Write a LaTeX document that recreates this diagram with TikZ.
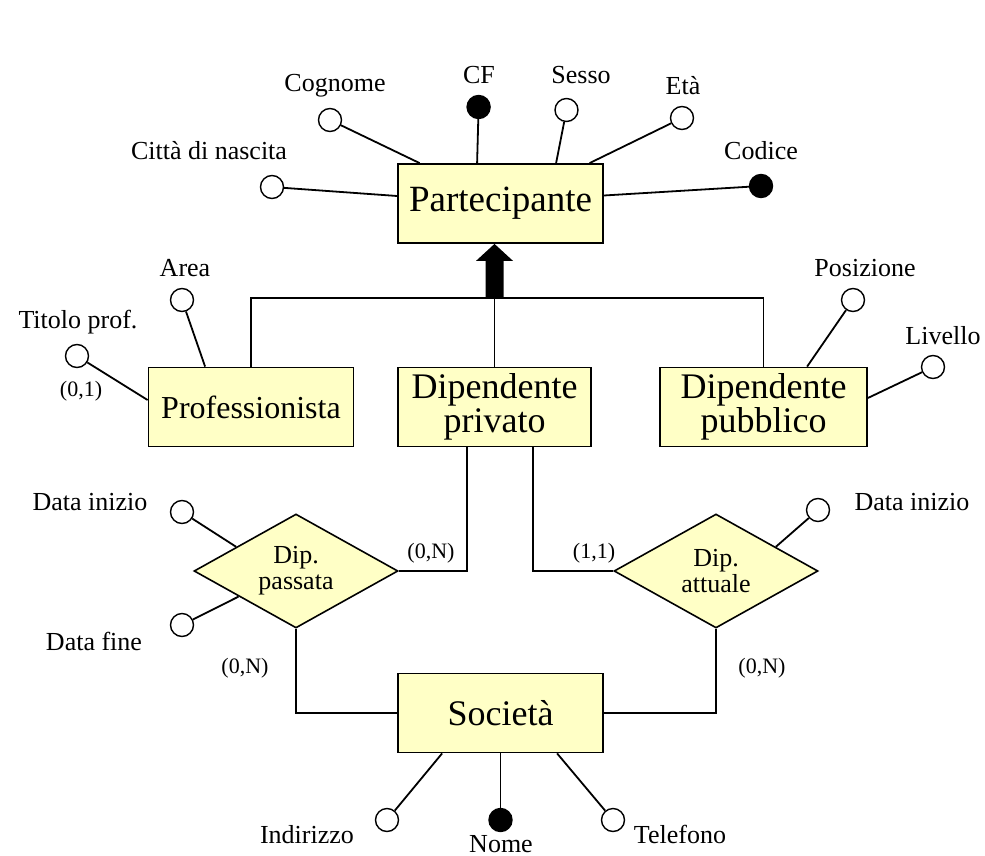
\documentclass[tikz,border=0pt]{standalone}
\usepackage{fontspec}
\setmainfont{Liberation Serif}
\usetikzlibrary{shapes.geometric,calc}
\definecolor{entfill}{HTML}{FFFFC6}

\begin{document}
\begin{tikzpicture}[x=1pt,y=-1pt,
  conn/.style={line width=1.8pt},
  entity/.style={draw, line width=1.8pt, fill=entfill, inner sep=0pt,
    align=center, minimum height=79pt, font=\fontsize{36}{34}\selectfont},
  relation/.style={diamond, draw, line width=1.6pt, fill=entfill, inner sep=0pt,
    minimum width=204pt, minimum height=114pt, aspect=1.79, align=center,
    font=\fontsize{26}{26}\selectfont},
  attr/.style={circle, draw, line width=1.4pt, fill=white, minimum size=23pt, inner sep=0pt},
  keyattr/.style={attr, fill=black},
  lbl/.style={font=\fontsize{26}{28}\selectfont, inner sep=0pt, anchor=base},
  card/.style={font=\fontsize{22}{24}\selectfont, inner sep=0pt, anchor=base}
]
\useasboundingbox (0,0) rectangle (985,856);

% entities
\node[entity, minimum width=205pt, font=\fontsize{37}{34}\selectfont] (part) at (500.5,203.5) {Partecipante};
\node[entity, minimum width=205pt, font=\fontsize{32}{34}\selectfont] (prof) at (251,407) {Professionista};
\node[entity, minimum width=193pt] (dpriv) at (494.5,407) {Dipendente\\privato};
\node[entity, minimum width=207pt] (dpub) at (763.5,407) {Dipendente\\pubblico};
\node[entity, minimum width=205pt] (soc) at (500.5,713) {Società};

% relationships
\node[relation] (dpass) at (296,571) {Dip.\\passata};
\node[relation] (datt) at (716,571) {Dip.\\attuale};

% generalization
\coordinate (hy) at (494.5,298);
\draw[conn] (prof.north) -- (prof.north |- hy) -- (dpub.north |- hy) -- (dpub.north);
\draw[conn] (dpriv.north) -- (dpriv.north |- hy);
\coordinate (tip) at (dpriv.north |- part.south);
\fill ($(hy)+(-9,0)$) -- ($(tip)+(-9,17)$) -- ($(tip)+(-18.5,17)$) -- (tip)
  -- ($(tip)+(18.5,17)$) -- ($(tip)+(9,17)$) -- ($(hy)+(9,0)$) -- cycle;

% relationship links
\draw[conn] ([xshift=-27.5pt]dpriv.south) |- (dpass.east);
\draw[conn] ([xshift=38.5pt]dpriv.south) |- (datt.west);
\draw[conn] (dpass.south) |- (soc.west);
\draw[conn] (datt.south) |- (soc.east);

% cardinalities
\node[card] (c1) at (431,558) {(0,N)};
\node[card] (c2) at (594,558) {(1,1)};
\node[card] (c3) at (245,673) {(0,N)};
\node[card] (c4) at (762,673) {(0,N)};
\node[card] (c5) at (81,396) {(0,1)};

% attributes of Partecipante
\node[attr] (cogn) at (330,120) {};
\node[keyattr] (cf) at (478.6,107) {};
\node[attr] (sesso) at (566.5,110) {};
\node[attr] (eta) at (682,118) {};
\node[attr] (citta) at (272,187) {};
\node[keyattr] (codice) at (761,186) {};
\draw[conn] (cogn) -- ([xshift=22.5pt]part.north west);
\draw[conn] (cf) -- ([xshift=80pt]part.north west);
\draw[conn] (sesso) -- ([xshift=159pt]part.north west);
\draw[conn] (eta) -- ([xshift=192.5pt]part.north west);
\draw[conn] (citta) -- ([yshift=7.5pt]part.west);
\draw[conn] (codice) -- ([yshift=8pt]part.east);
\node[lbl] (lcogn) at (335,92) {Cognome};
\node[lbl] (lcf) at (479,84) {CF};
\node[lbl] (lsesso) at (581,84) {Sesso};
\node[lbl] (leta) at (683,95) {Età};
\node[lbl] (lcitta) at (209,160) {Città di nascita};
\node[lbl] (lcodice) at (761,160) {Codice};

% attributes of Professionista
\node[attr] (area) at (182,300) {};
\node[attr] (titolo) at (77,356) {};
\draw[conn] (area) -- ([xshift=57.5pt]prof.north west);
\draw[conn] (titolo) -- ([yshift=7pt]prof.west);
\node[lbl] (larea) at (185,276) {Area};
\node[lbl] (ltitolo) at (78,328) {Titolo prof.};

% attributes of Dipendente pubblico
\node[attr] (posiz) at (853,300) {};
\node[attr] (livello) at (933,367) {};
\draw[conn] (posiz) -- ([xshift=148pt]dpub.north west);
\draw[conn] (livello) -- ([yshift=9pt]dpub.east);
\node[lbl] (lposiz) at (865,276) {Posizione};
\node[lbl] (llivello) at (943,344) {Livello};

% attributes of the relationships
\node[attr] (dinl) at (182,512) {};
\node[attr] (dfine) at (182,625) {};
\node[attr] (dinr) at (818,510) {};
\draw[conn] (dinl) -- (dpass.158);
\draw[conn] (dfine) -- (dpass.204);
\draw[conn] (dinr) -- (datt.22);
\node[lbl] (ldinl) at (90,510) {Data inizio};
\node[lbl] (ldfine) at (94,650) {Data fine};
\node[lbl] (ldinr) at (912,510) {Data inizio};

% attributes of Società
\node[attr] (indir) at (387,820) {};
\node[keyattr] (nome) at (500.5,820) {};
\node[attr] (telef) at (613,820) {};
\draw[conn] (indir) -- ([xshift=45pt]soc.south west);
\draw[conn] (nome) -- (soc.south);
\draw[conn] (telef) -- ([xshift=160pt]soc.south west);
\node[lbl] (lindir) at (307,843) {Indirizzo};
\node[lbl] (lnome) at (501,852) {Nome};
\node[lbl] (ltelef) at (680,843) {Telefono};
\end{tikzpicture}
\end{document}
